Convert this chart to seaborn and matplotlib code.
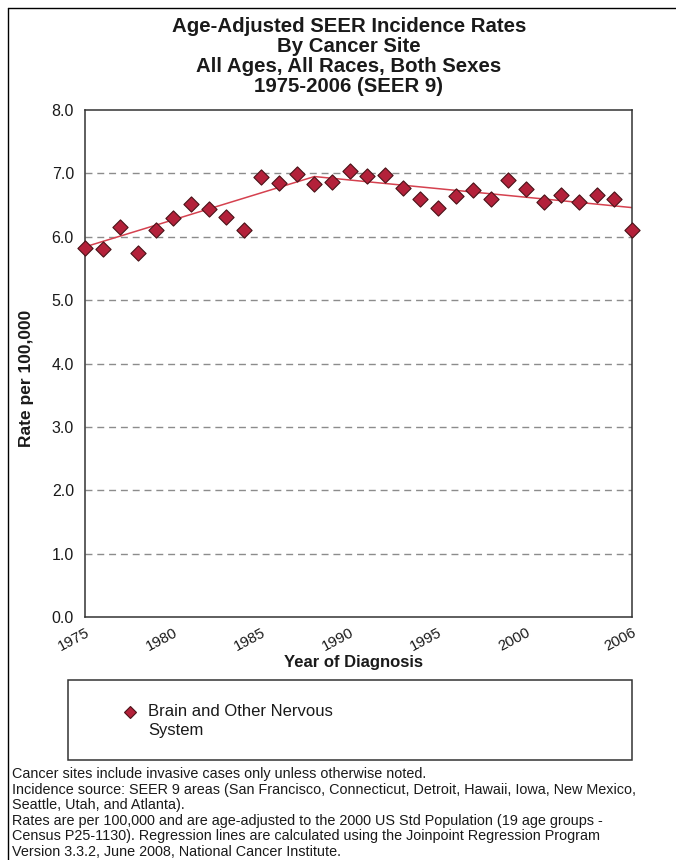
import matplotlib
matplotlib.use("Agg")
import matplotlib.pyplot as plt
from matplotlib.lines import Line2D
from matplotlib.patches import Rectangle
from matplotlib.ticker import MultipleLocator
import seaborn as sns
import pandas as pd

# data
years = [1975, 1976, 1977, 1978, 1979, 1980, 1981, 1982, 1983, 1984, 1985,
         1986, 1987, 1988, 1989, 1990, 1991, 1992, 1993, 1994, 1995, 1996,
         1997, 1998, 1999, 2000, 2001, 2002, 2003, 2004, 2005, 2006]
rates = [5.83, 5.80, 6.16, 5.75, 6.10, 6.29, 6.51, 6.43, 6.31, 6.11, 6.94,
         6.85, 6.99, 6.83, 6.87, 7.04, 6.96, 6.98, 6.77, 6.59, 6.46, 6.64,
         6.74, 6.60, 6.89, 6.76, 6.55, 6.66, 6.55, 6.66, 6.59, 6.10]
# joinpoint regression segments
joint_years = [1975, 1988, 2006]
joint_rates = [5.84, 6.95, 6.46]
tick_years = [1975, 1980, 1985, 1990, 1995, 2000, 2006]
y_ticks = [0, 1, 2, 3, 4, 5, 6, 7, 8]
series_lines = ["Brain and Other Nervous", "System"]

title_lines = ["Age-Adjusted SEER Incidence Rates", "By Cancer Site",
               "All Ages, All Races, Both Sexes", "1975-2006 (SEER 9)"]
notes = ["Cancer sites include invasive cases only unless otherwise noted.",
         "Incidence source: SEER 9 areas (San Francisco, Connecticut, Detroit, Hawaii, Iowa, New Mexico,",
         "Seattle, Utah, and Atlanta).",
         "Rates are per 100,000 and are age-adjusted to the 2000 US Std Population (19 age groups -",
         "Census P25-1130). Regression lines are calculated using the Joinpoint Regression Program",
         "Version 3.3.2, June 2008, National Cancer Institute."]

df = pd.DataFrame({"year": years, "rate": rates})
fit = pd.DataFrame({"year": joint_years, "rate": joint_rates})

sns.set_style("white")
plt.rcParams['font.family'] = ['Liberation Sans', 'DejaVu Sans']

W, H = 676, 860
fig = plt.figure(figsize=(W / 100, H / 100), dpi=100)
ax = fig.add_axes([85 / W, 1 - 617 / H, (632 - 85) / W, (617 - 110) / H])

marker_face = '#b3213a'
marker_edge = '#4a1218'
line_col = '#d5414f'
txt = '#1a1a1a'

sns.lineplot(data=fit, x="year", y="rate", ax=ax, color=line_col, linewidth=1.1)
sns.scatterplot(data=df, x="year", y="rate", ax=ax, marker='D', s=60,
                color=marker_face, edgecolor=marker_edge, linewidth=0.8,
                clip_on=False, zorder=5)

ax.set_xlim(1975, 2006)
ax.set_ylim(0, 8)

# dashed gridlines
for v in y_ticks[1:-1]:
    ax.axhline(v, color='#8c8c8c', linestyle=(0, (5, 3.5)), linewidth=1.0, zorder=1)

ax.yaxis.set_minor_locator(MultipleLocator(0.25))
ax.set_yticks(y_ticks)
ax.set_yticklabels([f"{v:.1f}" for v in y_ticks], fontsize=11.5, color=txt)
ax.set_xticks(years, minor=True)
ax.set_xticks(tick_years)
ax.set_xticklabels([str(y) for y in tick_years], fontsize=10.8, rotation=28,
                   ha='right', va='top', rotation_mode='anchor', color=txt)
ax.tick_params(axis='both', which='both', direction='out', color='#333333',
               width=1.0)
ax.tick_params(axis='y', which='major', length=5, pad=3)
ax.tick_params(axis='y', which='minor', length=3)
ax.tick_params(axis='x', which='both', length=6, pad=0)

for sp in ax.spines.values():
    sp.set_visible(True)
    sp.set_color('#333333')
    sp.set_linewidth(1.1)

ax.set_xlabel("Year of Diagnosis", fontsize=12, fontweight='bold', color=txt)
ax.xaxis.set_label_coords((353 - 85) / 547, (617 - 663) / 507)
ax.xaxis.label.set_va('center')
ax.set_ylabel("Rate per 100,000", fontsize=12.5, fontweight='bold', color=txt)
ax.yaxis.set_label_coords((26 - 85) / 547, (617 - 378) / 507)
ax.yaxis.label.set_va('center')

for line, yc in zip(title_lines, [26, 46, 67, 87]):
    fig.text(349 / W, 1 - yc / H, line, ha='center', va='center',
             fontsize=14.7, fontweight='bold', color=txt)

# legend box with its diamond key and wrapped label
fig.patches.append(Rectangle((68 / W, 1 - 760 / H), (632 - 68) / W, 80 / H,
                             transform=fig.transFigure, fill=False,
                             edgecolor='#333333', linewidth=1.1))
fig.lines.append(Line2D([130 / W], [1 - 712 / H], transform=fig.transFigure,
                        marker='D', linestyle='none', markersize=6.5,
                        markerfacecolor=marker_face, markeredgecolor=marker_edge,
                        markeredgewidth=0.8))
for line, yc in zip(series_lines, [712, 731]):
    fig.text(148 / W, 1 - yc / H, line, ha='left', va='center',
             fontsize=12, color=txt)

# footnote
for i, line in enumerate(notes):
    fig.text(12 / W, 1 - (774 + 15.6 * i) / H, line, ha='left', va='center',
             fontsize=10.4, color=txt)

# outer frame (top and left)
fig.lines.append(Line2D([8 / W, 1], [1 - 8 / H, 1 - 8 / H], transform=fig.transFigure,
                        color='black', linewidth=1.0))
fig.lines.append(Line2D([8 / W, 8 / W], [0, 1 - 8 / H], transform=fig.transFigure,
                        color='black', linewidth=1.0))

fig.savefig("out.png", dpi=100)
